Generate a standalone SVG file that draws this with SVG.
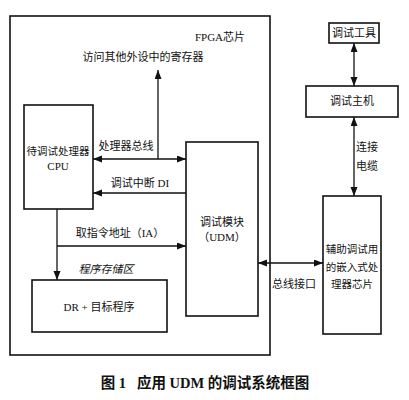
<svg xmlns="http://www.w3.org/2000/svg" width="409" height="400" viewBox="0 0 409 400">
<style>
.box{fill:none;stroke:#111;stroke-width:1.6}
.ln{fill:none;stroke:#111;stroke-width:1.3}
.t{font-family:"Liberation Serif","Noto Sans CJK SC",serif;font-size:11px;fill:#111;text-anchor:middle;dominant-baseline:central}
.s{font-size:10.5px}
.cap{font-family:"Liberation Serif","Noto Sans CJK SC",serif;font-size:14.5px;font-weight:bold;fill:#111;text-anchor:middle;dominant-baseline:central}
</style>
<defs>
<marker id="ah" markerUnits="userSpaceOnUse" markerWidth="10" markerHeight="8" refX="9" refY="3.5" orient="auto-start-reverse">
<path d="M0,0 L9,3.5 L0,7 z" fill="#111"/>
</marker>
</defs>
<rect width="409" height="400" fill="#fff"/>
<g id="fpga">
<rect class="box" x="10" y="16" width="260" height="339"/>
<text class="t" x="220" y="37">FPGA芯片</text>
</g>
<g id="regs">
<text class="t" x="143" y="57">访问其他外设中的寄存器</text>
</g>
<g id="cpu">
<rect class="box" x="24" y="105" width="69" height="104"/>
<text class="t s" x="58" y="151">待调试处理器</text>
<text class="t" x="58" y="166">CPU</text>
</g>
<g id="udm">
<rect class="box" x="186" y="142" width="72" height="174"/>
<text class="t" x="222" y="222">调试模块</text>
<text class="t" x="222" y="237">（UDM）</text>
</g>
<g id="mem">
<text class="t" x="106" y="269" font-style="italic">程序存储区</text>
<rect class="box" x="32" y="280" width="135" height="52"/>
<text class="t" x="99" y="307">DR + 目标程序</text>
</g>
<g id="tool">
<rect class="box" x="329" y="23" width="50" height="20"/>
<text class="t" x="354" y="33">调试工具</text>
</g>
<g id="host">
<rect class="box" x="306" y="86" width="92" height="31"/>
<text class="t" x="352" y="101">调试主机</text>
</g>
<g id="aux">
<rect class="box" x="323" y="196" width="58" height="138"/>
<text class="t s" x="352" y="249">辅助调试用</text>
<text class="t s" x="352" y="267">的嵌入式处</text>
<text class="t s" x="352" y="284">理器芯片</text>
</g>
<g id="connectors">
<line class="ln" x1="158" y1="159" x2="158" y2="70" marker-end="url(#ah)"/>
<line class="ln" x1="93" y1="159" x2="186" y2="159" marker-start="url(#ah)" marker-end="url(#ah)"/>
<text class="t" x="126" y="146">处理器总线</text>
<line class="ln" x1="186" y1="193" x2="93" y2="193" marker-end="url(#ah)"/>
<text class="t" x="140" y="183">调试中断 DI</text>
<line class="ln" x1="57" y1="209" x2="57" y2="280" marker-end="url(#ah)"/>
<line class="ln" x1="57" y1="246" x2="186" y2="246" marker-end="url(#ah)"/>
<text class="t" x="120" y="233">取指令地址（IA）</text>
<line class="ln" x1="258" y1="263" x2="323" y2="263" marker-start="url(#ah)" marker-end="url(#ah)"/>
<text class="t" x="294" y="284">总线接口</text>
<line class="ln" x1="354" y1="43" x2="354" y2="86" marker-start="url(#ah)" marker-end="url(#ah)"/>
<line class="ln" x1="354" y1="117" x2="354" y2="196" marker-start="url(#ah)" marker-end="url(#ah)"/>
<text class="t" x="367" y="147">连接</text>
<text class="t" x="367" y="166">电缆</text>
</g>
<g id="caption">
<text class="cap" x="205" y="383" xml:space="preserve">图 1   应用 UDM 的调试系统框图</text>
</g>
</svg>
